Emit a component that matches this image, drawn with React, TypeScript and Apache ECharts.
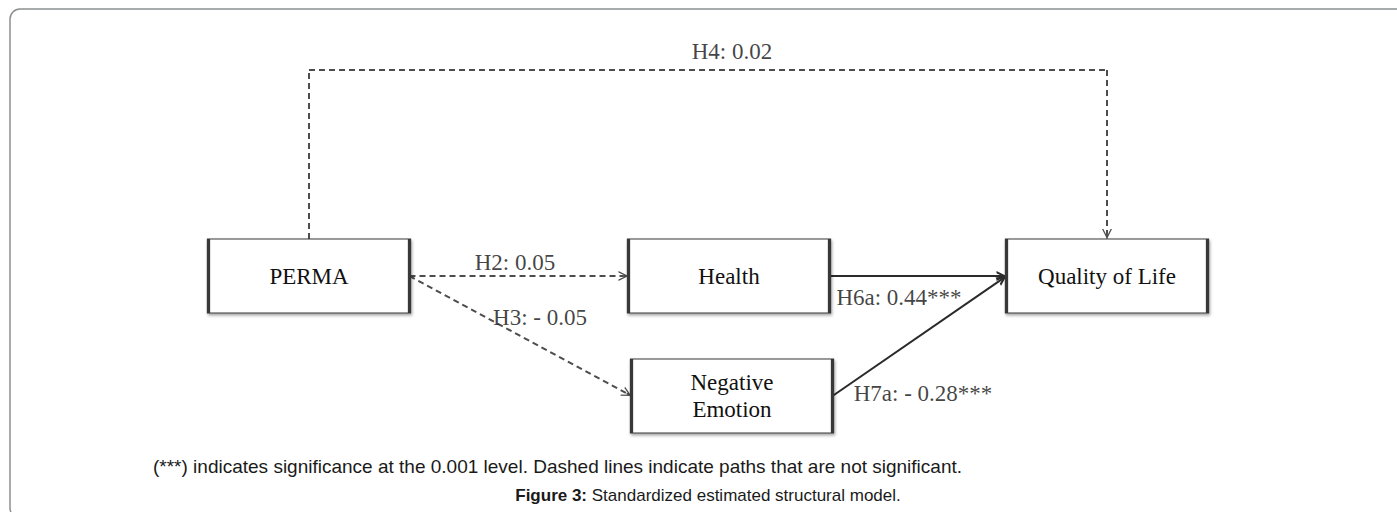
import React, { useEffect, useRef } from 'react';
import * as echarts from 'echarts';

// ---------- content ----------
const constructs = ['PERMA', 'Health', 'Negative Emotion', 'Quality of Life'];
const hypotheses = ['H4', 'H2', 'H3', 'H6a', 'H7a'];
const pathFrom = ['PERMA', 'PERMA', 'PERMA', 'Health', 'Negative Emotion'];
const pathTo = ['Quality of Life', 'Health', 'Negative Emotion', 'Quality of Life', 'Quality of Life'];
const coefficients = [0.02, 0.05, -0.05, 0.44, -0.28];
const significant = [false, false, false, true, true];
const footnote =
  '(***) indicates significance at the 0.001 level. Dashed lines indicate paths that are not significant.';
const captionLead = 'Figure 3:';
const captionText = 'Standardized estimated structural model.';

// ---------- layout ----------
const W = 1397;
const H = 512;
const BOX_W = 201;
const BOX_H = 74;
const nodeCenter: Record<string, [number, number]> = {
  PERMA: [309, 276],
  Health: [729, 276],
  'Negative Emotion': [732, 396],
  'Quality of Life': [1107, 276],
};
const wrapped: Record<string, string> = { 'Negative Emotion': 'Negative\nEmotion' };
const h4RouteY = 70;
const labelPos: Record<string, [number, number]> = {
  H4: [732, 51],
  H2: [515, 262],
  H3: [540, 317],
  H6a: [899, 297],
  H7a: [923, 393],
};
const ARROW_LEN = 10;
const ARROW_W = 12;
const thinChevron =
  'path://M0,12 L6,0 L12,12 L10.3,12 L6,3.4 L1.7,12 Z M5,0.6 L7,0.6 L7,6.6 L5,6.6 Z';
const boldChevron =
  'path://M0,12 L6,0 L12,12 L9.2,12 L6,5.4 L2.8,12 Z M5,0.6 L7,0.6 L7,6.6 L5,6.6 Z';

const serif = '"Liberation Serif", "Times New Roman", Times, serif';
const sans = '"Liberation Sans", Arial, Helvetica, sans-serif';

function fmt(i: number) {
  const c = coefficients[i];
  const v = c < 0 ? '- ' + Math.abs(c).toFixed(2) : c.toFixed(2);
  return hypotheses[i] + ': ' + v + (significant[i] ? '***' : '');
}

function edgePoint(name: string, side: 'left' | 'right' | 'top'): [number, number] {
  const [cx, cy] = nodeCenter[name];
  if (side === 'left') return [cx - BOX_W / 2, cy];
  if (side === 'right') return [cx + BOX_W / 2, cy];
  return [cx, cy - BOX_H / 2];
}

function shorten(a: [number, number], b: [number, number], d: number): [number, number] {
  const dx = b[0] - a[0];
  const dy = b[1] - a[1];
  const l = Math.hypot(dx, dy);
  return [b[0] - (dx / l) * d, b[1] - (dy / l) * d];
}

function buildSegments() {
  const segs: any[] = [];
  hypotheses.forEach((h, i) => {
    const sig = significant[i];
    const lineStyle = sig
      ? { color: '#2a2a2a', width: 2, type: 'solid', opacity: 1 }
      : { color: '#4d4d4d', width: 2, type: [6, 4], opacity: 1 };
    const arrow = sig ? boldChevron : thinChevron;
    if (h === 'H4') {
      const s = edgePoint(pathFrom[i], 'top');
      const t = edgePoint(pathTo[i], 'top');
      const c1: [number, number] = [s[0], h4RouteY];
      const c2: [number, number] = [t[0], h4RouteY];
      segs.push({ coords: [s, c1], lineStyle, symbol: ['none', 'none'] });
      segs.push({ coords: [c1, c2], lineStyle, symbol: ['none', 'none'] });
      segs.push({
        coords: [c2, shorten(c2, t, ARROW_LEN / 2)],
        lineStyle,
        symbol: ['none', arrow],
      });
    } else {
      const s = edgePoint(pathFrom[i], 'right');
      const t = edgePoint(pathTo[i], 'left');
      segs.push({ coords: [s, shorten(s, t, ARROW_LEN / 2)], lineStyle, symbol: ['none', arrow] });
    }
  });
  return segs;
}

export default function App() {
  const ref = useRef<HTMLDivElement>(null);
  useEffect(() => {
    if (!ref.current) return;
    document.body.style.margin = '0';
    const chart = echarts.init(ref.current, null, { renderer: 'svg', width: W, height: H });
    const option: any = {
      animation: false,
      backgroundColor: '#ffffff',
      grid: { left: 0, right: 0, top: 0, bottom: 0, containLabel: false },
      xAxis: { type: 'value', min: 0, max: W, show: false },
      yAxis: { type: 'value', min: 0, max: H, inverse: true, show: false },
      tooltip: { show: false },
      series: [
        {
          type: 'lines',
          coordinateSystem: 'cartesian2d',
          silent: true,
          symbol: 'none',
          symbolSize: [ARROW_W, ARROW_LEN],
          z: 2,
          data: buildSegments(),
        },
        {
          type: 'scatter',
          silent: true,
          symbol: 'rect',
          symbolSize: [BOX_W, BOX_H],
          z: 3,
          itemStyle: {
            color: '#ffffff',
            borderColor: '#383838',
            borderWidth: 2,
            opacity: 1,
            shadowBlur: 3,
            shadowColor: 'rgba(0,0,0,0.35)',
            shadowOffsetX: 1,
            shadowOffsetY: 2,
          },
          emphasis: { disabled: true },
          label: {
            show: true,
            position: 'inside',
            color: '#111111',
            fontFamily: serif,
            fontSize: 23,
            lineHeight: 27,
            formatter: (p: any) => wrapped[p.name] || p.name,
          },
          data: constructs.map((n) => ({ name: n, value: nodeCenter[n] })),
        },
        {
          type: 'scatter',
          silent: true,
          symbolSize: 0,
          z: 4,
          emphasis: { disabled: true },
          label: {
            show: true,
            position: 'inside',
            color: '#111111',
            fontFamily: serif,
            fontSize: 23,
            formatter: '{b}',
          },
          data: hypotheses.map((h, i) => ({ name: fmt(i), value: labelPos[h] })),
        },
      ],
      graphic: [
        {
          type: 'rect',
          z: 0,
          silent: true,
          shape: { x: 10, y: 9, width: 1410, height: 509, r: 10 },
          style: { fill: 'none', stroke: '#8c9090', lineWidth: 1.5 },
        },
        {
          type: 'text',
          z: 5,
          silent: true,
          x: 153,
          y: 466,
          style: {
            text: footnote,
            fill: '#1a1a1a',
            font: '19px ' + sans,
            verticalAlign: 'middle',
            align: 'left',
          },
        },
        {
          type: 'text',
          z: 5,
          silent: true,
          x: 708,
          y: 495,
          style: {
            text: '{b|' + captionLead + '} ' + captionText,
            rich: { b: { fontWeight: 'bold', fontSize: 17, fontFamily: sans, fill: '#1a1a1a' } },
            fill: '#1a1a1a',
            font: '17px ' + sans,
            verticalAlign: 'middle',
            align: 'center',
          },
        },
      ],
    };
    chart.setOption(option);
    return () => chart.dispose();
  }, []);
  return <div ref={ref} style={{ width: W, height: H, margin: 0, background: '#fff' }} />;
}
